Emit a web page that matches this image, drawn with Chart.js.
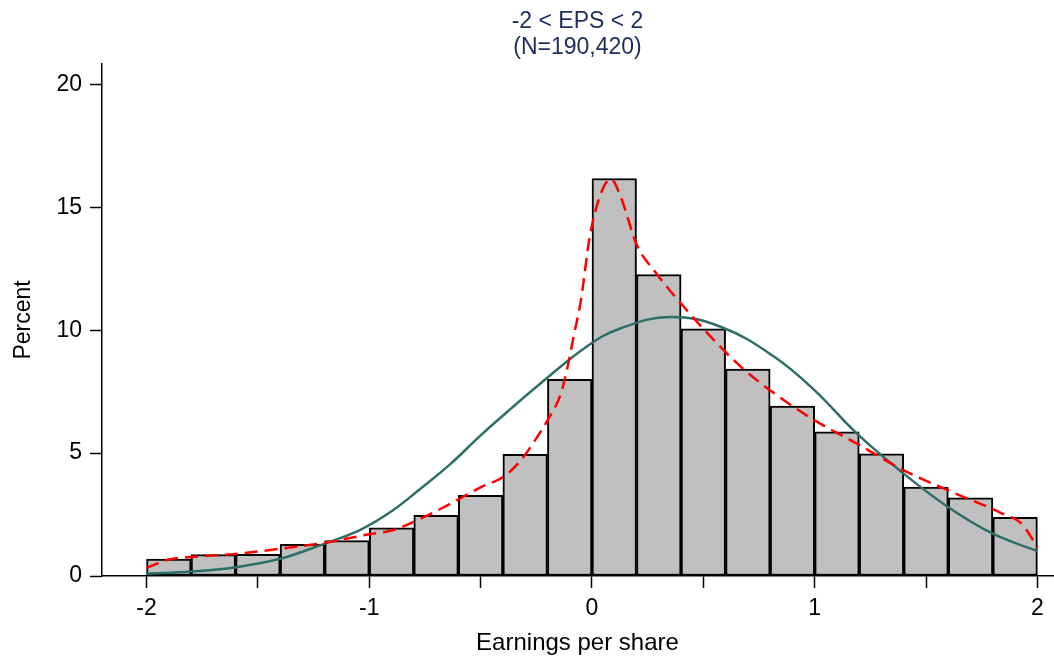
<!DOCTYPE html>
<html>
<head>
<meta charset="utf-8">
<script src="https://cdn.jsdelivr.net/npm/chart.js@4"></script>
<style>
  html, body { margin: 0; padding: 0; background: #fff; }
  #wrap { width: 1054px; height: 658px; }
</style>
</head>
<body>
<div id="wrap"><canvas id="eps-chart" width="1054" height="658"></canvas></div>
<script>
// histogram bins (width 0.2), percent of firms
const binCenters = [-1.9, -1.7, -1.5, -1.3, -1.1, -0.9, -0.7, -0.5, -0.3, -0.1,
                    0.1, 0.3, 0.5, 0.7, 0.9, 1.1, 1.3, 1.5, 1.7, 1.9];
const binPercent = [0.69, 0.87, 0.88, 1.29, 1.44, 1.96, 2.47, 3.28, 4.95, 8.0,
                    16.17, 12.26, 10.06, 8.42, 6.91, 5.87, 4.97, 3.62, 3.18, 2.39];

// kernel density (red dashed)
const kdeX = [-2.0, -1.9, -1.8, -1.6, -1.4, -1.2, -1.0, -0.9, -0.77, -0.635, -0.5, -0.395, -0.32,
              -0.25, -0.2, -0.14, -0.11, -0.08, -0.05, -0.01, 0.04, 0.085, 0.13, 0.2, 0.29,
              0.4, 0.52, 0.67, 0.82, 1.0, 1.19, 1.4, 1.6, 1.84, 1.93, 2.0];
const kdeY = [0.33, 0.67, 0.77, 0.90, 1.11, 1.35, 1.70, 1.85, 2.33, 2.94, 3.61, 4.05, 4.70,
              5.6, 6.33, 7.41, 8.49, 9.85, 11.2, 13.8, 15.56, 16.15, 15.4, 13.5, 12.3,
              11.08, 9.86, 8.5, 7.42, 6.33, 5.38, 4.3, 3.48, 2.55, 2.12, 1.17];

// normal curve (teal)
const normX = [-2.0, -1.8, -1.6, -1.4, -1.2, -1.04, -0.905, -0.77, -0.635, -0.5, -0.365, -0.23,
               -0.02, 0.13, 0.35, 0.58, 0.82, 1.0, 1.19, 1.4, 1.6, 1.8, 2.0];
const normY = [0.09, 0.18, 0.36, 0.70, 1.32, 1.88, 2.60, 3.55, 4.56, 5.72, 6.80, 7.84,
               9.36, 10.08, 10.54, 10.13, 8.91, 7.55, 5.79, 4.16, 2.80, 1.72, 1.01];

const xTicks = [-2, -1.5, -1, -0.5, 0, 0.5, 1, 1.5, 2];
const yTicks = [0, 5, 10, 15, 20];

const font = 'Liberation Sans, Arial, Helvetica, sans-serif';

const toPoints = (xs, ys) => xs.map((x, i) => ({ x: x, y: ys[i] }));

const ctx = document.getElementById('eps-chart').getContext('2d');

new Chart(ctx, {
  data: {
    datasets: [
      {
        type: 'line',
        label: 'Kernel density',
        data: toPoints(kdeX, kdeY),
        borderColor: '#ff0000',
        borderWidth: 2.5,
        borderDash: [13, 7],
        pointRadius: 0,
        cubicInterpolationMode: 'monotone',
        fill: false,
        order: 1,
      },
      {
        type: 'line',
        label: 'Normal',
        data: toPoints(normX, normY),
        borderColor: '#2e6e69',
        borderWidth: 2.5,
        pointRadius: 0,
        tension: 0.4,
        fill: false,
        order: 2,
      },
      {
        type: 'bar',
        label: 'Percent',
        data: toPoints(binCenters, binPercent),
        backgroundColor: '#c0c0c0',
        borderColor: '#000',
        borderWidth: 2,
        borderSkipped: false,
        barPercentage: 1,
        categoryPercentage: 1,
        order: 3,
      },
    ],
  },
  options: {
    responsive: false,
    animation: false,
    layout: { padding: { left: 0, right: 1, top: 0, bottom: 0 } },
    plugins: {
      legend: { display: false },
      tooltip: { enabled: false },
      title: {
        display: true,
        fullSize: false,
        text: ['-2 < EPS < 2', '(N=190,420)'],
        color: '#1c2d5b',
        font: { family: font, size: 23, weight: 'normal', lineHeight: 1.13 },
        padding: { top: 9, bottom: 3 },
      },
    },
    scales: {
      x: {
        type: 'linear',
        min: -2.2,
        max: 2.07,
        offset: false,
        afterBuildTicks: (scale) => { scale.ticks = xTicks.map(v => ({ value: v })); },
        afterFit: (scale) => { scale.height = 82; },
        ticks: {
          color: '#000',
          font: { family: font, size: 23 },
          padding: 7,
          autoSkip: false,
          maxRotation: 0,
          callback: (v) => Number.isInteger(v) ? String(v) : '',
        },
        grid: { offset: false, drawOnChartArea: false, drawTicks: true, tickLength: 12, tickColor: '#000', tickWidth: 1.5 },
        border: { display: true, color: '#000', width: 1.5 },
        title: {
          display: true,
          text: 'Earnings per share',
          color: '#000',
          font: { family: font, size: 24 },
          padding: { top: 0, bottom: 0 },
        },
      },
      y: {
        type: 'linear',
        min: 0,
        max: 20.83,
        afterBuildTicks: (scale) => { scale.ticks = yTicks.map(v => ({ value: v })); },
        afterFit: (scale) => { scale.width = 102; },
        ticks: {
          color: '#000',
          font: { family: font, size: 23 },
          padding: 8,
        },
        grid: { drawOnChartArea: false, drawTicks: true, tickLength: 12, tickColor: '#000', tickWidth: 1.5 },
        border: { display: true, color: '#000', width: 1.5 },
        title: {
          display: true,
          text: 'Percent',
          color: '#000',
          font: { family: font, size: 23 },
          padding: { top: 10, bottom: 0 },
        },
      },
    },
  },
});
</script>
</body>
</html>
